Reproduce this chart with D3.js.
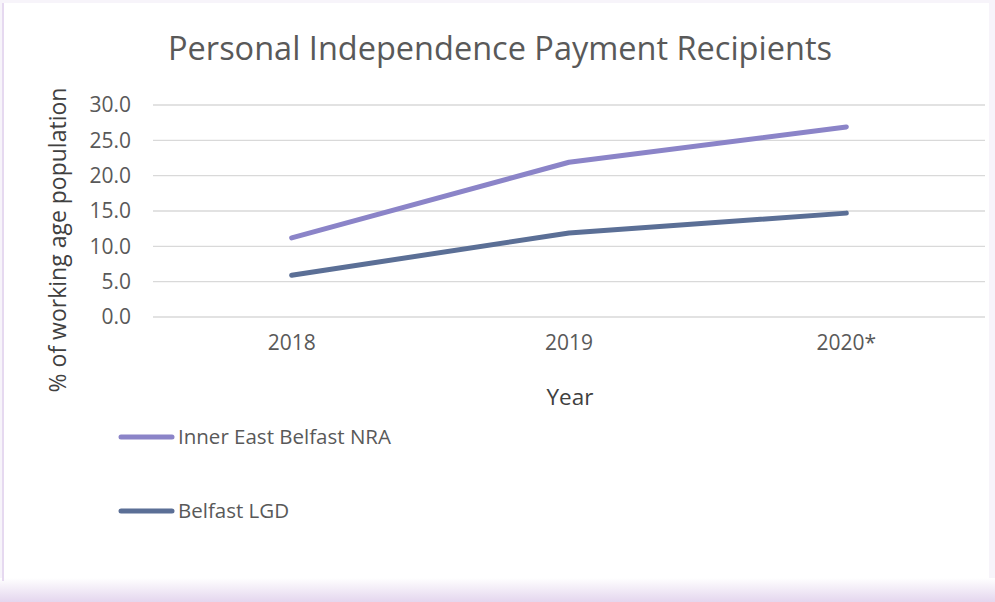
<!DOCTYPE html>
<html lang="en">
<head>
<meta charset="UTF-8" />
<title>PIP Recipients</title>
<script src="https://d3js.org/d3.v7.min.js"></script>
<style>
  body { margin: 0; background: #fff; }
  svg { display: block; font-family: "Open Sans", "Noto Sans", sans-serif; }
</style>
</head>
<body>
<svg></svg>
<script>
// Data
const years = ["2018", "2019", "2020*"];
const innerEast = [11.2, 21.9, 26.9];
const belfast = [5.9, 11.9, 14.7];
const yTicks = [0, 5, 10, 15, 20, 25, 30];
const seriesNames = ["Inner East Belfast NRA", "Belfast LGD"];
const colors = ["#8b84c8", "#5b6f96"];

const W = 995, H = 602;
const svg = d3.select("svg").attr("width", W).attr("height", H);

// frame with soft purple edges
const defs = svg.append("defs");
const grad = defs.append("linearGradient").attr("id", "bot").attr("x1", 0).attr("y1", 0).attr("x2", 0).attr("y2", 1);
grad.append("stop").attr("offset", "0%").attr("stop-color", "#fff");
grad.append("stop").attr("offset", "100%").attr("stop-color", "#e4d6ee");
svg.append("rect").attr("x", 0).attr("y", 0).attr("width", W).attr("height", H).attr("fill", "#f7f4fa");
svg.append("rect").attr("x", 3).attr("y", 3).attr("width", W - 9).attr("height", H - 6).attr("fill", "#fff");
svg.append("rect").attr("x", 0).attr("y", 578).attr("width", W).attr("height", 24).attr("fill", "url(#bot)");
svg.append("rect").attr("x", 2).attr("y", 3).attr("width", 2).attr("height", 578).attr("fill", "#e6d9f0");

const x = d3.scaleBand().domain(years).range([153, 985]);
const y = d3.scaleLinear().domain([0, 30]).range([317, 105]);

// gridlines
svg.append("g")
  .selectAll("line")
  .data(yTicks)
  .join("line")
  .attr("x1", 153).attr("x2", 985)
  .attr("y1", d => y(d)).attr("y2", d => y(d))
  .attr("stroke", "#d9d9d9").attr("stroke-width", 1.3);

// y axis labels
const yAxis = svg.append("g")
  .attr("transform", "translate(131,0)")
  .call(d3.axisLeft(y).tickValues(yTicks).tickFormat(d3.format(".1f")).tickSize(0).tickPadding(0));
yAxis.select(".domain").remove();
yAxis.selectAll("text").attr("font-size", 21).attr("fill", "#595959").attr("font-family", "Open Sans");

// x axis labels
const xAxis = svg.append("g")
  .attr("transform", "translate(0,335)")
  .call(d3.axisBottom(x).tickSize(0).tickPadding(0));
xAxis.select(".domain").remove();
xAxis.selectAll("text").attr("font-size", 21).attr("fill", "#595959").attr("font-family", "Open Sans");

// titles
svg.append("text").attr("x", 500).attr("y", 60).attr("text-anchor", "middle")
  .attr("font-size", 32.5).attr("fill", "#595959").text("Personal Independence Payment Recipients");
svg.append("text").attr("x", 570).attr("y", 405).attr("text-anchor", "middle")
  .attr("font-size", 22.5).attr("fill", "#404040").text("Year");
svg.append("text").attr("transform", "translate(66,240) rotate(-90)").attr("text-anchor", "middle")
  .attr("font-size", 23).attr("fill", "#404040").text("% of working age population");

// lines
const line = d3.line().x((d, i) => x(years[i]) + x.bandwidth() / 2).y(d => y(d));
[innerEast, belfast].forEach((s, i) => {
  svg.append("path").datum(s).attr("d", line)
    .attr("fill", "none").attr("stroke", colors[i]).attr("stroke-width", 5)
    .attr("stroke-linecap", "round").attr("stroke-linejoin", "round");
});

// legend
const legY = [437, 511];
seriesNames.forEach((n, i) => {
  svg.append("line").attr("x1", 121).attr("x2", 172).attr("y1", legY[i]).attr("y2", legY[i])
    .attr("stroke", colors[i]).attr("stroke-width", 5).attr("stroke-linecap", "round");
  svg.append("text").attr("x", 178).attr("y", legY[i]).attr("dy", "0.35em")
    .attr("font-size", 20.5).attr("fill", "#595959").text(n);
});
</script>
</body>
</html>
